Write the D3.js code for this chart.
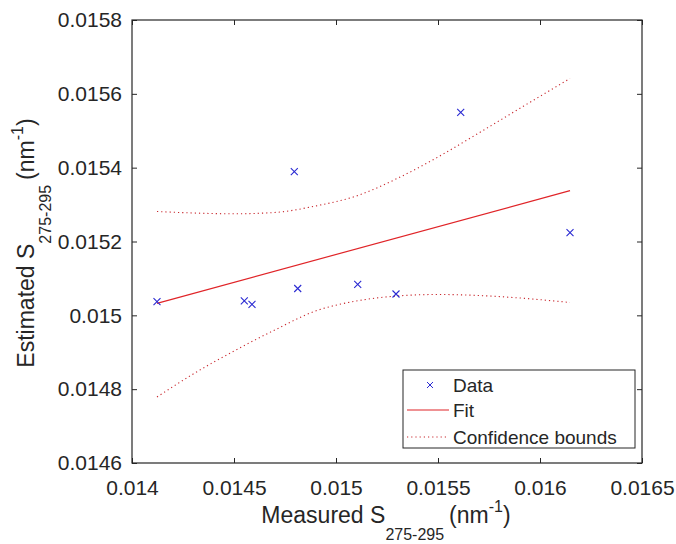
<!DOCTYPE html>
<html>
<head>
<meta charset="utf-8">
<script src="https://cdn.jsdelivr.net/npm/d3@7"></script>
<style>
  body { margin: 0; background: #fff; }
  text { font-family: "Liberation Sans", Arial, sans-serif; fill: #262626; }
</style>
</head>
<body>
<div id="chart"></div>
<script>
// measured vs estimated slope values
const measured = [0.0141225, 0.0145505, 0.0145882, 0.0147956, 0.0148123, 0.0151064, 0.0152941, 0.0156113, 0.0161471];
const estimated = [0.0150370, 0.0150389, 0.0150299, 0.0153891, 0.0150727, 0.0150841, 0.0150578, 0.0155500, 0.0152239];

// fitted line end points
const fitX = [0.0141225, 0.0161471];
const fitY = [0.0150326, 0.0153377];

// confidence bounds
const boundX = [0.0141225, 0.0143, 0.0145, 0.0147, 0.0149, 0.0151, 0.0153, 0.0155, 0.0157, 0.0159, 0.0161471];
const upperBound = [0.0152813, 0.0152772, 0.0152751, 0.0152786, 0.0152962, 0.0153233, 0.0153707, 0.0154289, 0.0154939, 0.0155603, 0.0156416];
const lowerBound = [0.0147788, 0.0148411, 0.0149034, 0.0149603, 0.0150118, 0.0150388, 0.0150524, 0.0150565, 0.0150537, 0.0150470, 0.0150348];

const xTicks = [0.014, 0.0145, 0.015, 0.0155, 0.016, 0.0165];
const yTicks = [0.0146, 0.0148, 0.015, 0.0152, 0.0154, 0.0156, 0.0158];

const legendLabels = ["Data", "Fit", "Confidence bounds"];

var width = 676, height = 544;
var plotLeft = 132, plotRight = 642, plotTop = 20, plotBottom = 463;

var svg = d3.select("#chart").append("svg")
  .attr("width", width)
  .attr("height", height);

var x = d3.scaleLinear().domain([0.014, 0.0165]).range([plotLeft, plotRight]);
var y = d3.scaleLinear().domain([0.0146, 0.0158]).range([plotBottom, plotTop]);

var axisColor = "#262626";
var redColor = "#e02428";
var blueColor = "#2a2ad2";

// axes on all four sides, ticks pointing in
var gx = svg.append("g")
  .attr("transform", "translate(0," + plotBottom + ")")
  .call(d3.axisBottom(x).tickValues(xTicks).tickSizeInner(-5).tickSizeOuter(0).tickPadding(17)
    .tickFormat(d => String(d)));
var gy = svg.append("g")
  .attr("transform", "translate(" + plotLeft + ",0)")
  .call(d3.axisLeft(y).tickValues(yTicks).tickSizeInner(-5).tickSizeOuter(0).tickPadding(10)
    .tickFormat(d => String(d)));
var gt = svg.append("g")
  .attr("transform", "translate(0," + plotTop + ")")
  .call(d3.axisTop(x).tickValues(xTicks).tickSizeInner(-5).tickSizeOuter(0).tickFormat(""));
var gr = svg.append("g")
  .attr("transform", "translate(" + plotRight + ",0)")
  .call(d3.axisRight(y).tickValues(yTicks).tickSizeInner(-5).tickSizeOuter(0).tickFormat(""));

[gx, gy, gt, gr].forEach(function (g) {
  g.select(".domain").remove();
  g.selectAll(".tick line").attr("stroke", axisColor);
  g.selectAll(".tick text").style("font-size", "21px").attr("fill", axisColor);
});

svg.append("rect")
  .attr("x", plotLeft).attr("y", plotTop)
  .attr("width", plotRight - plotLeft).attr("height", plotBottom - plotTop)
  .attr("fill", "none")
  .attr("stroke", axisColor)
  .attr("stroke-width", 1.2);

// confidence bounds
var boundLine = d3.line().curve(d3.curveMonotoneX);
[upperBound, lowerBound].forEach(function (b) {
  svg.append("path")
    .attr("d", boundLine(boundX.map((v, i) => [x(v), y(b[i])])))
    .attr("fill", "none")
    .attr("stroke", "#c8262c")
    .attr("stroke-width", 1.1)
    .attr("stroke-dasharray", "1.2,3");
});

// fit line
svg.append("line")
  .attr("x1", x(fitX[0])).attr("y1", y(fitY[0]))
  .attr("x2", x(fitX[1])).attr("y2", y(fitY[1]))
  .attr("stroke", redColor)
  .attr("stroke-width", 1.2);

// data markers
var ms = 3.5;
svg.selectAll(".pt")
  .data(measured)
  .enter()
  .append("path")
  .attr("class", "pt")
  .attr("d", function (d, i) {
    var cx = x(d), cy = y(estimated[i]);
    return "M" + (cx - ms) + "," + (cy - ms) + "L" + (cx + ms) + "," + (cy + ms) +
      "M" + (cx - ms) + "," + (cy + ms) + "L" + (cx + ms) + "," + (cy - ms);
  })
  .attr("stroke", blueColor)
  .attr("stroke-width", 1.1)
  .attr("fill", "none");

// axis titles, with sub- and superscripts
function addTitle(t, main) {
  t.append("tspan").text(main);
  t.append("tspan").text("275-295").style("font-size", "16px").attr("dy", 17);
  t.append("tspan").text("(nm").attr("dx", 5).attr("dy", -17);
  t.append("tspan").text("-1").style("font-size", "16px").attr("dy", -11);
  t.append("tspan").text(")").attr("dy", 11);
}

var xt = svg.append("text")
  .attr("x", 386).attr("y", 523)
  .attr("text-anchor", "middle")
  .style("font-size", "23px");
addTitle(xt, "Measured S");

var yt = svg.append("text")
  .attr("transform", "translate(34,243) rotate(-90)")
  .attr("text-anchor", "middle")
  .style("font-size", "23px");
addTitle(yt, "Estimated S");

// legend
var legend = svg.append("g").attr("transform", "translate(403,370)");
legend.append("rect")
  .attr("width", 232).attr("height", 78)
  .attr("fill", "#fff")
  .attr("stroke", axisColor)
  .attr("stroke-width", 1);

var rowY = [15, 40, 67];
legend.append("path")
  .attr("d", "M" + (27 - 3) + "," + (rowY[0] - 3) + "L" + (27 + 3) + "," + (rowY[0] + 3) +
    "M" + (27 - 3) + "," + (rowY[0] + 3) + "L" + (27 + 3) + "," + (rowY[0] - 3))
  .attr("stroke", blueColor)
  .attr("stroke-width", 1);
legend.append("line")
  .attr("x1", 4).attr("x2", 46).attr("y1", rowY[1]).attr("y2", rowY[1])
  .attr("stroke", redColor).attr("stroke-width", 1.2);
legend.append("line")
  .attr("x1", 4).attr("x2", 46).attr("y1", rowY[2]).attr("y2", rowY[2])
  .attr("stroke", "#c8262c").attr("stroke-width", 1.1).attr("stroke-dasharray", "1.2,3");

legend.selectAll(".lbl")
  .data(legendLabels)
  .enter()
  .append("text")
  .attr("class", "lbl")
  .attr("x", 50)
  .attr("y", (d, i) => rowY[i])
  .attr("dy", "0.35em")
  .style("font-size", "19px")
  .text(d => d);
</script>
</body>
</html>
